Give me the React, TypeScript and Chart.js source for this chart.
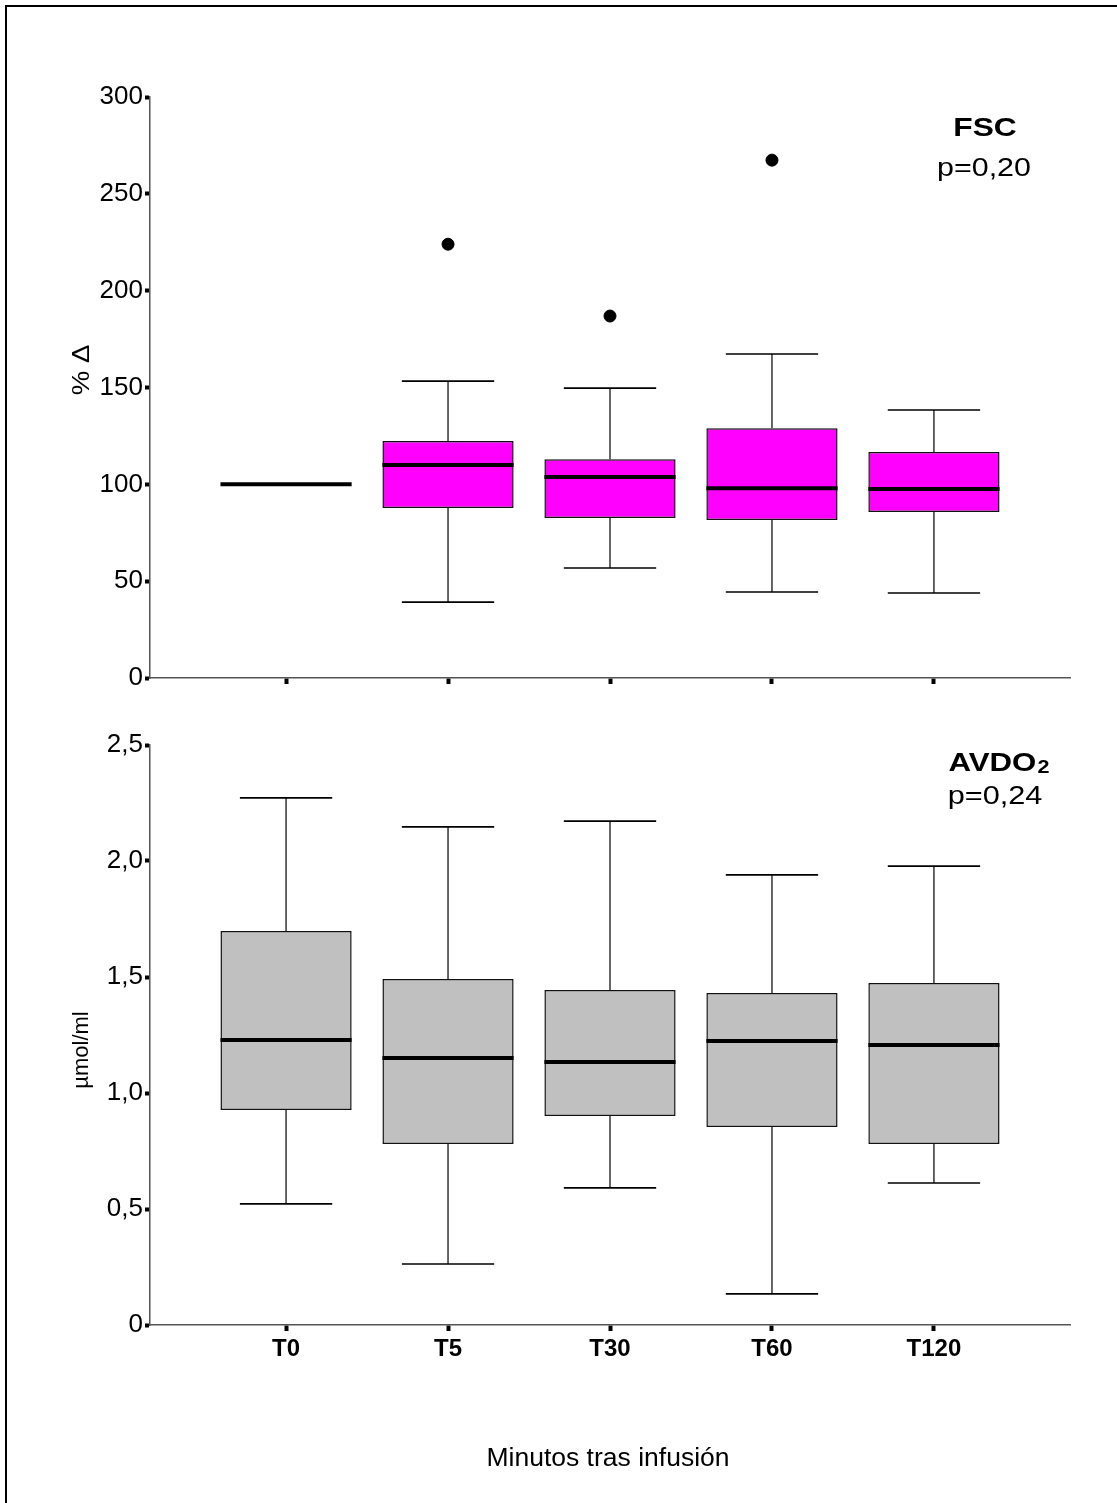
import React, { useEffect, useRef } from "react";
import { Chart, registerables } from "chart.js";

Chart.register(...registerables);

// ---------- data ----------
const categories = ["T0", "T5", "T30", "T60", "T120"];

// FSC (% Δ)
const fscWhiskerLow = [100, 39.2, 56.8, 44.4, 43.9];
const fscQ1 = [100, 87.8, 82.6, 81.6, 85.7];
const fscMedian = [100, 110, 103.8, 98, 97.6];
const fscQ3 = [100, 122.4, 113, 129, 116.7];
const fscWhiskerHigh = [100, 153.3, 149.7, 167.3, 138.4];
const fscOutliers = [[], [224], [186.9], [267.4], []];
const fscTicks = [0, 50, 100, 150, 200, 250, 300];

// AVDO2 (µmol/ml)
const avdoWhiskerLow = [0.522, 0.263, 0.591, 0.134, 0.612];
const avdoQ1 = [0.927, 0.78, 0.901, 0.853, 0.78];
const avdoMedian = [1.228, 1.151, 1.134, 1.224, 1.207];
const avdoQ3 = [1.698, 1.491, 1.444, 1.431, 1.474];
const avdoWhiskerHigh = [2.272, 2.147, 2.172, 1.94, 1.978];
const avdoTicks = [0, 0.5, 1, 1.5, 2, 2.5];
const avdoTickLabels = ["0", "0,5", "1,0", "1,5", "2,0", "2,5"];

const FONT = "'Liberation Sans', Arial, Helvetica, sans-serif";

// ---------- plugins ----------
const whiskerPlugin = {
  id: "boxWhiskers",
  afterDatasetsDraw(chart: any, _args: any, opts: any) {
    if (!opts || !opts.median) return;
    const { ctx, scales } = chart;
    const xs = scales.x;
    const ys = scales.y;
    const boxHalf = 0.405;
    const capHalf = 0.285;
    ctx.save();
    opts.median.forEach((m: number, i: number) => {
      const cx = xs.getPixelForValue(i);
      const pl = xs.getPixelForValue(i - boxHalf);
      const pr = xs.getPixelForValue(i + boxHalf);
      const cl = xs.getPixelForValue(i - capHalf);
      const cr = xs.getPixelForValue(i + capHalf);
      const q1 = ys.getPixelForValue(opts.q1[i]);
      const q3 = ys.getPixelForValue(opts.q3[i]);
      const lo = ys.getPixelForValue(opts.low[i]);
      const hi = ys.getPixelForValue(opts.high[i]);
      ctx.strokeStyle = "#000";
      ctx.lineWidth = 1.2;
      if (opts.high[i] > opts.q3[i]) {
        ctx.beginPath();
        ctx.moveTo(cx, q3);
        ctx.lineTo(cx, hi);
        ctx.stroke();
        ctx.lineWidth = 1.6;
        ctx.beginPath();
        ctx.moveTo(cl, hi);
        ctx.lineTo(cr, hi);
        ctx.stroke();
      }
      ctx.lineWidth = 1.2;
      if (opts.low[i] < opts.q1[i]) {
        ctx.beginPath();
        ctx.moveTo(cx, q1);
        ctx.lineTo(cx, lo);
        ctx.stroke();
        ctx.lineWidth = 1.6;
        ctx.beginPath();
        ctx.moveTo(cl, lo);
        ctx.lineTo(cr, lo);
        ctx.stroke();
      }
      const my = ys.getPixelForValue(m);
      ctx.lineWidth = 4;
      ctx.beginPath();
      ctx.moveTo(pl, my);
      ctx.lineTo(pr, my);
      ctx.stroke();
    });
    ctx.restore();
  },
};

const textPlugin = {
  id: "freeTexts",
  afterDraw(chart: any, _args: any, opts: any) {
    if (!opts || !opts.items) return;
    const { ctx } = chart;
    ctx.save();
    ctx.fillStyle = "#000";
    opts.items.forEach((t: any) => {
      ctx.save();
      ctx.translate(t.x, t.y);
      if (t.rotate) ctx.rotate(t.rotate);
      if (t.stretch) ctx.scale(t.stretch, 1);
      ctx.textBaseline = "middle";
      if (t.sub) {
        ctx.font = t.font;
        const w1 = ctx.measureText(t.text).width;
        ctx.font = t.subFont;
        const w2 = ctx.measureText(t.sub).width;
        const start = -(w1 + w2 + 1) / 2;
        ctx.textAlign = "left";
        ctx.font = t.font;
        ctx.textBaseline = "alphabetic";
        ctx.fillText(t.text, start, 9);
        ctx.font = t.subFont;
        ctx.fillText(t.sub, start + w1 + 1, 11);
      } else {
        ctx.textAlign = "center";
        ctx.font = t.font;
        ctx.fillText(t.text, 0, 0);
      }
      ctx.restore();
    });
    ctx.restore();
  },
};

Chart.register(whiskerPlugin, textPlugin);

// ---------- chart builder ----------
function makeConfig(p: {
  q1: number[];
  q3: number[];
  median: number[];
  low: number[];
  high: number[];
  outliers: number[][];
  fill: string;
  yMax: number;
  yTicks: number[];
  yLabel: (v: number, i: number) => string;
  showXLabels: boolean;
  padTop: number;
  xHeight: number;
  texts: any[];
}) {
  const boxData = categories.map((_, i) =>
    p.q3[i] > p.q1[i] ? { x: i, y: [p.q1[i], p.q3[i]] } : { x: i, y: null }
  );
  const outlierData: { x: number; y: number }[] = [];
  p.outliers.forEach((arr, i) => arr.forEach((v) => outlierData.push({ x: i, y: v })));
  return {
    type: "bar",
    data: {
      datasets: [
        {
          type: "bar",
          data: boxData,
          backgroundColor: p.fill,
          borderColor: "#111",
          borderWidth: 1.5,
          borderSkipped: false,
          categoryPercentage: 1,
          barPercentage: 0.81,
        },
        {
          type: "scatter",
          data: outlierData,
          backgroundColor: "#000",
          borderColor: "#000",
          pointRadius: 6,
          pointHoverRadius: 6,
        },
      ],
    },
    options: {
      responsive: false,
      animation: false,
      devicePixelRatio: 1,
      events: [],
      layout: { padding: { top: p.padTop, right: 47, left: 0, bottom: 0 } },
      plugins: {
        legend: { display: false },
        tooltip: { enabled: false },
        boxWhiskers: { q1: p.q1, q3: p.q3, median: p.median, low: p.low, high: p.high },
        freeTexts: { items: p.texts },
      },
      scales: {
        x: {
          type: "linear",
          min: -0.84,
          max: 4.84,
          offset: false,
          grid: {
            offset: false,
            drawOnChartArea: false,
            drawTicks: true,
            tickLength: 6,
            tickWidth: 4,
            tickColor: "#000",
          },
          border: { color: "#555", width: 1.5 },
          afterBuildTicks: (s: any) => {
            s.ticks = categories.map((_, i) => ({ value: i }));
          },
          afterFit: (s: any) => {
            s.height = p.xHeight;
          },
          ticks: {
            display: p.showXLabels,
            autoSkip: false,
            maxRotation: 0,
            padding: 4,
            color: "#000",
            font: { family: FONT, size: 24, weight: "bold" },
            callback: (v: any) => categories[Math.round(Number(v))] ?? "",
          },
        },
        y: {
          type: "linear",
          min: 0,
          max: p.yMax,
          grid: {
            drawOnChartArea: false,
            drawTicks: true,
            tickLength: 5,
            tickWidth: 4,
            tickColor: "#000",
          },
          border: { color: "#555", width: 1.5 },
          afterBuildTicks: (s: any) => {
            s.ticks = p.yTicks.map((v) => ({ value: v }));
          },
          afterFit: (s: any) => {
            s.width = 150;
          },
          ticks: {
            padding: 2,
            color: "#000",
            font: { family: FONT, size: 26 },
            callback: (v: any, i: number) => p.yLabel(Number(v), i),
          },
        },
      },
    },
  };
}

function ChartCanvas({ config, width, height, top }: any) {
  const ref = useRef<HTMLCanvasElement | null>(null);
  useEffect(() => {
    if (!ref.current) return;
    const c = new Chart(ref.current, config);
    return () => c.destroy();
  }, []);
  return (
    <canvas
      ref={ref}
      width={width}
      height={height}
      style={{ position: "absolute", left: 0, top, width, height, display: "block" }}
    />
  );
}

export default function App() {
  const topConfig = makeConfig({
    q1: fscQ1,
    q3: fscQ3,
    median: fscMedian,
    low: fscWhiskerLow,
    high: fscWhiskerHigh,
    outliers: fscOutliers,
    fill: "#FF00FF",
    yMax: 300,
    yTicks: fscTicks,
    yLabel: (v) => String(v),
    showXLabels: false,
    padTop: 97,
    xHeight: 32,
    texts: [
      { text: "% \u0394", x: 82, y: 370, rotate: -Math.PI / 2, font: `24px ${FONT}`, stretch: 1.15 },
      { text: "FSC", x: 985, y: 129, font: `bold 26px ${FONT}`, stretch: 1.22 },
      { text: "p=0,20", x: 984, y: 169, font: `26px ${FONT}`, stretch: 1.17 },
    ],
  });
  const bottomConfig = makeConfig({
    q1: avdoQ1,
    q3: avdoQ3,
    median: avdoMedian,
    low: avdoWhiskerLow,
    high: avdoWhiskerHigh,
    outliers: [[], [], [], [], []],
    fill: "#C0C0C0",
    yMax: 2.5,
    yTicks: avdoTicks,
    yLabel: (v, i) => avdoTickLabels[i] ?? String(v),
    showXLabels: true,
    padTop: 35,
    xHeight: 178,
    texts: [
      { text: "\u00B5mol/ml", x: 82, y: 340, rotate: -Math.PI / 2, font: `22px ${FONT}` },
      { text: "AVDO", sub: "2", x: 999, y: 52, font: `bold 26px ${FONT}`, subFont: `bold 18px ${FONT}`, stretch: 1.2 },
      { text: "p=0,24", x: 995, y: 87, font: `26px ${FONT}`, stretch: 1.18 },
      { text: "Minutos tras infusi\u00F3n", x: 608, y: 749, font: `26px ${FONT}`, stretch: 1.02 },
    ],
  });
  return (
    <div
      style={{
        position: "absolute",
        left: 0,
        top: 0,
        width: 1117,
        height: 1503,
        overflow: "hidden",
        background: "#fff",
      }}
    >
      <div
        style={{
          position: "absolute",
          left: 5,
          top: 5,
          width: 1300,
          height: 1700,
          border: "2px solid #000",
        }}
      />
      <ChartCanvas config={topConfig} width={1117} height={710} top={0} />
      <ChartCanvas config={bottomConfig} width={1117} height={793} top={710} />
    </div>
  );
}
